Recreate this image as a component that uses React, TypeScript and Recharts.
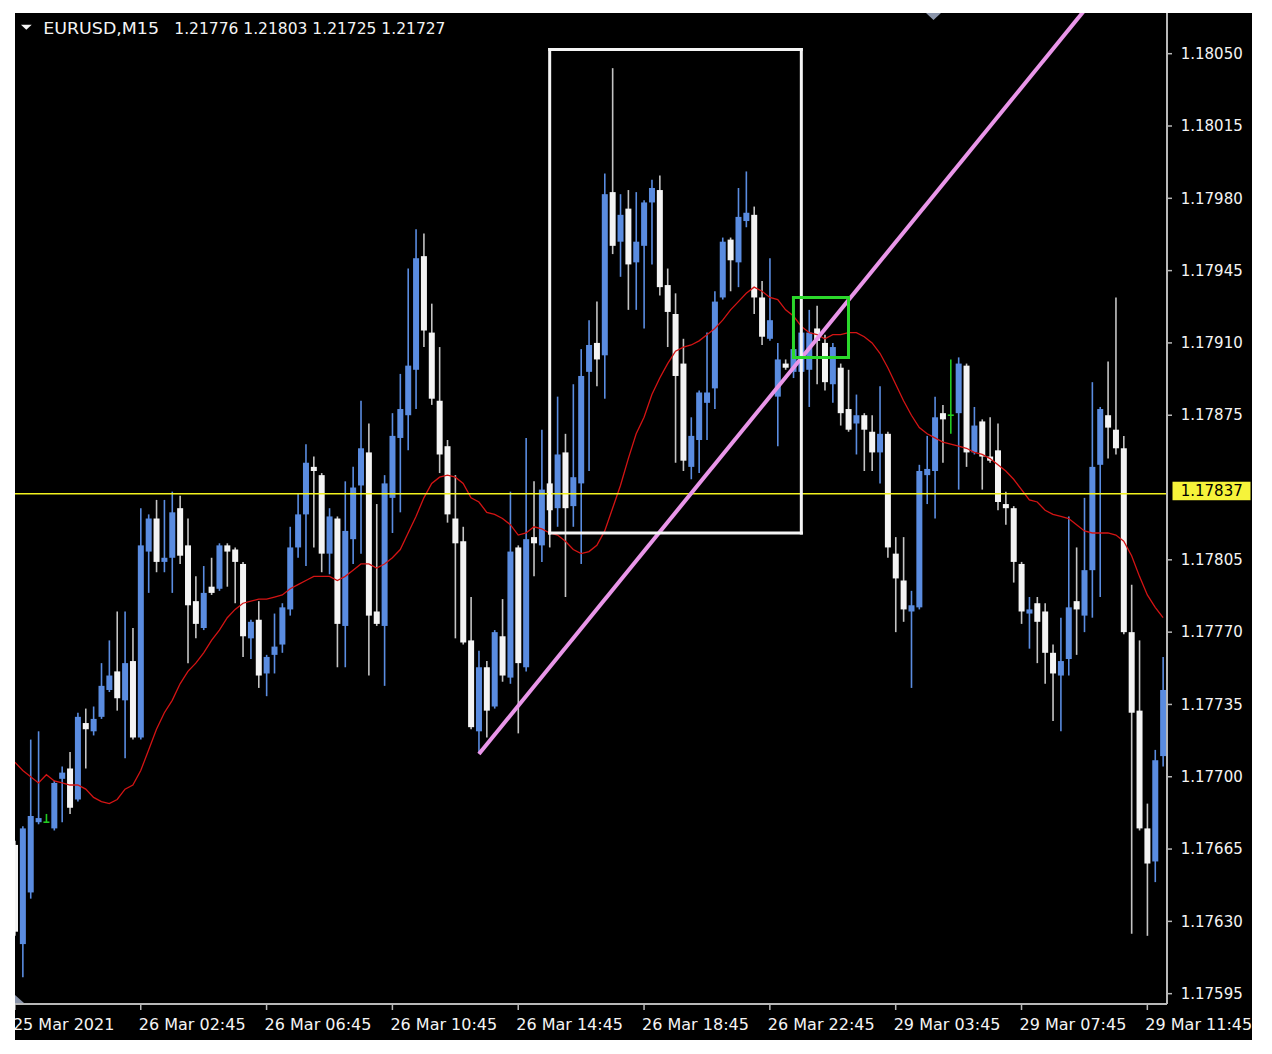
import { Bar, ComposedChart, Line, ReferenceLine, XAxis, YAxis } from "recharts";

// EURUSD M15 candles, bar 0 = 25 Mar 22:45
const open = [
  1.17667, 1.17619, 1.17644, 1.17678, 1.17678, 1.17675, 1.17699, 1.17704, 1.17689, 1.17726,
  1.17722, 1.17729, 1.17742, 1.17751, 1.17737, 1.17756, 1.17719, 1.17809, 1.17825, 1.17804,
  1.17806, 1.1783, 1.17812, 1.17785, 1.17772, 1.17792, 1.17791, 1.17812, 1.1781, 1.17803,
  1.17767, 1.17776, 1.1775, 1.17759, 1.17764, 1.17781, 1.17811, 1.17827, 1.1785, 1.17846,
  1.17808, 1.17825, 1.17773, 1.17815, 1.17841, 1.17857, 1.1778, 1.17773, 1.17835, 1.17864,
  1.17875, 1.17897, 1.17952, 1.17915, 1.17882, 1.1786, 1.17825, 1.17814, 1.17766, 1.17722,
  1.17753, 1.17734, 1.17768, 1.17748, 1.17811, 1.17753, 1.17816, 1.17812, 1.17842, 1.1783,
  1.17857, 1.17831, 1.17842, 1.17896, 1.1791, 1.17904, 1.17983, 1.17959, 1.17975, 1.17949,
  1.17957, 1.17978, 1.17984, 1.17938, 1.17924, 1.179, 1.1785, 1.17863, 1.17881, 1.17888,
  1.17932, 1.1796, 1.17949, 1.17969, 1.17972, 1.17932, 1.17912, 1.17884, 1.179, 1.17896,
  1.17896, 1.17897, 1.17917, 1.1791, 1.1789, 1.17898, 1.17878, 1.17871, 1.17875, 1.17867,
  1.17857, 1.17866, 1.17808, 1.17795, 1.1778, 1.17782, 1.17846, 1.17848, 1.17876, 1.17875,
  1.17876, 1.17899, 1.17857, 1.17872, 1.17855, 1.17858, 1.17832, 1.1783, 1.17803, 1.17779,
  1.17784, 1.1778, 1.1776, 1.17749, 1.17757, 1.17785, 1.17778, 1.178, 1.17851, 1.17875,
  1.17868, 1.17859, 1.1777, 1.17732, 1.17675, 1.17659, 1.1771,
];
const high = [
  1.17669, 1.17676, 1.17718, 1.17722, 1.17682, 1.17698, 1.17705, 1.17712, 1.17731, 1.17733,
  1.17734, 1.17755, 1.17766, 1.1778, 1.1778, 1.17772, 1.1783, 1.17827, 1.17834, 1.17834,
  1.17838, 1.17836, 1.17825, 1.17797, 1.17802, 1.17806, 1.17813, 1.17813, 1.17811, 1.17804,
  1.17776, 1.17785, 1.17759, 1.17779, 1.17784, 1.17821, 1.17837, 1.17861, 1.17855, 1.17847,
  1.1783, 1.17826, 1.17843, 1.1785, 1.17882, 1.17871, 1.17832, 1.17846, 1.17876, 1.17895,
  1.17946, 1.17965, 1.17963, 1.17929, 1.17908, 1.17863, 1.17846, 1.17821, 1.17787, 1.17761,
  1.17756, 1.17771, 1.17786, 1.17838, 1.17812, 1.17864, 1.17843, 1.17868, 1.17843, 1.17884,
  1.17866, 1.1789, 1.17907, 1.17921, 1.1793, 1.17992, 1.18043, 1.17982, 1.17984, 1.17983,
  1.17979, 1.17989, 1.17991, 1.17946, 1.17934, 1.17912, 1.17874, 1.17887, 1.17915, 1.17935,
  1.17961, 1.17961, 1.17985, 1.17993, 1.17976, 1.1794, 1.17951, 1.1791, 1.17902, 1.17914,
  1.17922, 1.17926, 1.17928, 1.17914, 1.1791, 1.179, 1.17897, 1.17885, 1.17876, 1.17875,
  1.17889, 1.17867, 1.17816, 1.17816, 1.1779, 1.17851, 1.17865, 1.17884, 1.1788, 1.17902,
  1.17903, 1.179, 1.17879, 1.17873, 1.17874, 1.17871, 1.17838, 1.17831, 1.17804, 1.17787,
  1.17787, 1.17784, 1.17764, 1.17777, 1.17826, 1.17811, 1.17835, 1.17891, 1.17879, 1.17901,
  1.17932, 1.17865, 1.17793, 1.17766, 1.17687, 1.17713, 1.17758,
];
const low = [
  1.17623, 1.17603, 1.17641, 1.17677, 1.17678, 1.17674, 1.17678, 1.17682, 1.17688, 1.17704,
  1.1772, 1.17728, 1.17741, 1.17732, 1.17709, 1.17718, 1.17718, 1.17789, 1.17799, 1.17799,
  1.17789, 1.17803, 1.17755, 1.17767, 1.17771, 1.17788, 1.1779, 1.17792, 1.17784, 1.17758,
  1.17757, 1.17743, 1.17739, 1.1775, 1.1776, 1.17778, 1.17806, 1.17802, 1.17811, 1.17799,
  1.17798, 1.17753, 1.17753, 1.17803, 1.17808, 1.17749, 1.17773, 1.17744, 1.17818, 1.17828,
  1.17858, 1.17878, 1.17908, 1.1788, 1.17847, 1.17823, 1.17767, 1.17764, 1.17723, 1.17712,
  1.17719, 1.17733, 1.17746, 1.17745, 1.17721, 1.17751, 1.17797, 1.17804, 1.17811, 1.17821,
  1.17787, 1.17821, 1.17803, 1.17848, 1.17889, 1.17883, 1.17953, 1.17942, 1.17926, 1.17926,
  1.17917, 1.17948, 1.17933, 1.17908, 1.17852, 1.17848, 1.17844, 1.17847, 1.17863, 1.17878,
  1.17931, 1.17935, 1.17937, 1.17966, 1.17924, 1.17909, 1.17911, 1.1786, 1.17897, 1.17893,
  1.17892, 1.17879, 1.1789, 1.17887, 1.17881, 1.1787, 1.17867, 1.17856, 1.17848, 1.17848,
  1.17842, 1.17806, 1.1777, 1.17775, 1.17743, 1.17781, 1.17832, 1.17825, 1.17852, 1.17866,
  1.17839, 1.1785, 1.17856, 1.17839, 1.17852, 1.17829, 1.17822, 1.17794, 1.17774, 1.17762,
  1.17755, 1.17745, 1.17727, 1.17722, 1.17749, 1.17759, 1.1777, 1.17777, 1.17787, 1.17854,
  1.17856, 1.17769, 1.17624, 1.17674, 1.17623, 1.17649, 1.17705,
];
const close = [
  1.17625, 1.17675, 1.17681, 1.1768, 1.17678, 1.17697, 1.17702, 1.17685, 1.17729, 1.17723,
  1.17728, 1.17744, 1.17749, 1.17738, 1.17755, 1.17719, 1.17812, 1.17825, 1.17804, 1.17806,
  1.17828, 1.17807, 1.17783, 1.17774, 1.17789, 1.17789, 1.17812, 1.17809, 1.17804, 1.17768,
  1.17775, 1.17749, 1.17758, 1.17763, 1.17782, 1.17811, 1.17827, 1.17852, 1.17848, 1.17808,
  1.17826, 1.17774, 1.17819, 1.1784, 1.17859, 1.17778, 1.17774, 1.17842, 1.17865, 1.17878,
  1.17899, 1.17951, 1.17916, 1.17883, 1.17856, 1.17827, 1.17813, 1.17765, 1.17724, 1.17753,
  1.17732, 1.1777, 1.17749, 1.17809, 1.17755, 1.17815, 1.17813, 1.17839, 1.17829, 1.17856,
  1.1783, 1.17845, 1.17894, 1.17909, 1.17902, 1.17982, 1.17957, 1.17972, 1.17948, 1.17959,
  1.17978, 1.17985, 1.17937, 1.17925, 1.17894, 1.17853, 1.17865, 1.17886, 1.17886, 1.1793,
  1.17959, 1.1795, 1.17971, 1.17973, 1.17932, 1.17913, 1.17921, 1.17902, 1.17898, 1.17907,
  1.17915, 1.17915, 1.17911, 1.17891, 1.17908, 1.17876, 1.17868, 1.17875, 1.17868, 1.17857,
  1.17866, 1.17811, 1.17796, 1.17781, 1.17783, 1.17848, 1.17849, 1.17874, 1.17873, 1.17875,
  1.179, 1.17857, 1.1787, 1.17855, 1.17853, 1.17833, 1.1783, 1.17804, 1.1778, 1.17781,
  1.17775, 1.1776, 1.1775, 1.17756, 1.17782, 1.17781, 1.178, 1.1785, 1.17878, 1.17869,
  1.17859, 1.1777, 1.17731, 1.17675, 1.17658, 1.17708, 1.17742,
];
// red moving average
const ma = [
  1.17707, 1.17703, 1.177, 1.17697, 1.17701, 1.17698, 1.17697, 1.17696, 1.17696, 1.17694,
  1.1769, 1.17688, 1.17687, 1.17689, 1.17694, 1.17696, 1.17703, 1.17713, 1.17723, 1.17731,
  1.17737, 1.17745, 1.17751, 1.17755, 1.1776, 1.17766, 1.17771, 1.17777, 1.17781, 1.17784,
  1.17785, 1.17786, 1.17786, 1.17787, 1.17788, 1.17791, 1.17793, 1.17795, 1.17797, 1.17797,
  1.17797, 1.17795, 1.17797, 1.178, 1.17803, 1.17803, 1.17801, 1.17803, 1.17806, 1.1781,
  1.17818, 1.17826, 1.17835, 1.17842, 1.17845, 1.17846, 1.17845, 1.17842, 1.17835, 1.17833,
  1.17828, 1.17827, 1.17825, 1.17822, 1.17817, 1.17818, 1.17821, 1.1782, 1.17818, 1.17817,
  1.17814, 1.1781, 1.17808, 1.17809, 1.17812, 1.17819, 1.1783, 1.17841, 1.17854, 1.17866,
  1.17874, 1.17885, 1.17893, 1.179, 1.17906, 1.17908, 1.17909, 1.17911, 1.17914, 1.17917,
  1.17921, 1.17926, 1.1793, 1.17934, 1.17937, 1.17935, 1.17932, 1.17931, 1.17926, 1.17923,
  1.17918, 1.17915, 1.17914, 1.17912, 1.17914, 1.17914, 1.17915, 1.17915, 1.17913, 1.1791,
  1.17905, 1.17898, 1.1789, 1.17882, 1.17875, 1.17869, 1.17866, 1.17864, 1.17862, 1.17861,
  1.1786, 1.17859, 1.17857, 1.17856, 1.17854, 1.17851, 1.17848, 1.17844, 1.17839, 1.17834,
  1.17833, 1.17829, 1.17827, 1.17826, 1.17825, 1.17822, 1.17819, 1.17818, 1.17818, 1.17818,
  1.17817, 1.17814, 1.17807, 1.17797, 1.17788, 1.17782, 1.17777,
];

const timeTickBars = [0, 16, 32, 48, 64, 80, 96, 112, 128, 144];
const timeTickLabels = [
  "25 Mar 2021", "26 Mar 02:45", "26 Mar 06:45", "26 Mar 10:45", "26 Mar 14:45",
  "26 Mar 18:45", "26 Mar 22:45", "29 Mar 03:45", "29 Mar 07:45", "29 Mar 11:45",
];
const priceTicks = [
  1.1805, 1.18015, 1.1798, 1.17945, 1.1791, 1.17875, 1.17837, 1.17805,
  1.1777, 1.17735, 1.177, 1.17665, 1.1763, 1.17595,
];
const CURRENT_PRICE = 1.17837;
const Y_MIN = 1.1759;
const Y_MAX = 1.180697;

const BLUE = "#5a8ce0";
const WHITE = "#f4f4f4";
const WICK = "#c4c4c4";
const DOJI = "#22cc22";
const AXIS = "#b8b8b8";
const FONT = "DejaVu Sans";

const rows = open.map((o, i) => ({
  i,
  o,
  h: high[i],
  l: low[i],
  c: close[i],
  ma: ma[i],
  range: [low[i], high[i]],
}));

function Candle(props: any) {
  const { x, y, width, height, payload } = props;
  if (!payload) return null;
  const { o, h, l, c } = payload;
  const top = Math.min(y, y + height);
  const span = Math.abs(height);
  const k = span / (h - l);
  const cx = x + width / 2;
  const yO = top + (h - o) * k;
  const yC = top + (h - c) * k;
  const doji = o === c;
  const up = c > o;
  const wick = doji ? DOJI : up ? BLUE : WICK;
  return (
    <g>
      <line x1={cx} x2={cx} y1={top} y2={top + span} stroke={wick} strokeWidth={1.6} />
      {doji ? (
        <line x1={cx - 3} x2={cx + 3} y1={yO} y2={yO} stroke={DOJI} strokeWidth={1.6} />
      ) : (
        <rect
          x={cx - 3}
          y={Math.min(yO, yC)}
          width={6}
          height={Math.max(1.5, Math.abs(yC - yO))}
          fill={up ? BLUE : WHITE}
        />
      )}
    </g>
  );
}

function renderXTick(props: any) {
  const { x, y, payload } = props;
  const idx = timeTickBars.indexOf(payload.value);
  if (idx < 0) return <g />;
  return (
    <g>
      <line x1={x} x2={x} y1={y} y2={y + 6} stroke={AXIS} strokeWidth={1.5} />
      <text x={x - 2} y={y + 26} fill={WHITE} fontSize={16} fontFamily={FONT}>
        {timeTickLabels[idx]}
      </text>
    </g>
  );
}

function renderYTick(props: any) {
  const { x, y, payload } = props;
  const v = payload.value as number;
  if (Math.abs(v - CURRENT_PRICE) < 1e-7) {
    return (
      <g>
        <rect x={x + 5.5} y={y - 12} width={78} height={18.5} fill="#f6f33a" />
        <text x={x + 13.7} y={y - 2.8} dy="0.35em" fill="#000" fontSize={15} fontFamily={FONT}>
          {v.toFixed(5)}
        </text>
      </g>
    );
  }
  return (
    <g>
      <line x1={x} x2={x + 5} y1={y} y2={y} stroke={AXIS} strokeWidth={1.5} />
      <text x={x + 13.7} y={y} dy="0.35em" fill={WHITE} fontSize={15} fontFamily={FONT}>
        {v.toFixed(5)}
      </text>
    </g>
  );
}

// four edges of a drawn rectangle object, x in bar indices
function boxLines(id: string, x1: number, x2: number, y1: number, y2: number, color: string) {
  const edges = [
    [{ x: x1, y: y1 }, { x: x2, y: y1 }],
    [{ x: x2, y: y1 }, { x: x2, y: y2 }],
    [{ x: x2, y: y2 }, { x: x1, y: y2 }],
    [{ x: x1, y: y2 }, { x: x1, y: y1 }],
  ];
  return edges.map((seg, k) => (
    <ReferenceLine
      key={`${id}-${k}`}
      segment={seg}
      stroke={color}
      strokeWidth={3}
      strokeLinecap="square"
      ifOverflow="visible"
    />
  ));
}

export default function App() {
  return (
    <div style={{ paddingLeft: 7, paddingTop: 5 }}>
      <div
        style={{
          position: "relative",
          width: 1237,
          height: 1027,
          background: "#000",
          overflow: "hidden",
        }}
      >
        <ComposedChart
          width={1241}
          height={1027}
          data={rows}
          margin={{ top: 0, right: 0, left: 0, bottom: 0 }}
          style={{ position: "absolute", left: -4, top: 0 }}
        >
          <XAxis
            dataKey="i"
            ticks={timeTickBars}
            interval={0}
            tick={renderXTick}
            tickLine={false}
            tickSize={0}
            tickMargin={0}
            axisLine={{ stroke: AXIS, strokeWidth: 2 }}
            height={36}
          />
          <YAxis
            orientation="right"
            type="number"
            domain={[Y_MIN, Y_MAX]}
            allowDataOverflow
            ticks={priceTicks}
            interval={0}
            width={85}
            tick={renderYTick}
            tickLine={false}
            tickSize={0}
            tickMargin={0}
            axisLine={{ stroke: AXIS, strokeWidth: 2 }}
          />
          <Bar
            dataKey="range"
            barSize={6}
            shape={(p: any) => <Candle {...p} />}
            isAnimationActive={false}
          />
          <Line
            dataKey="ma"
            type="linear"
            stroke="#d41414"
            strokeWidth={1.3}
            dot={false}
            activeDot={false}
            isAnimationActive={false}
          />
          <ReferenceLine y={CURRENT_PRICE} stroke="#f2f21e" strokeWidth={1.5} />
          <ReferenceLine
            segment={[
              { x: 59, y: 1.17711 },
              { x: 136, y: 1.18071 },
            ]}
            stroke="#e996e9"
            strokeWidth={4}
            ifOverflow="hidden"
          />
          {boxLines("range", 68, 100, 1.18052, 1.17818, "#f4f4f4")}
          {boxLines("cross", 99, 106, 1.17932, 1.17903, "#2bd82b")}
        </ComposedChart>
        <svg
          width={1237}
          height={1027}
          style={{ position: "absolute", left: 0, top: 0, pointerEvents: "none" }}
        >
          <polygon points="6,11.7 16.7,11.7 11.3,16.7" fill={WHITE} />
          <text x={28.3} y={20.7} fill={WHITE} fontSize={16} fontFamily={FONT} textLength={115.7} lengthAdjust="spacingAndGlyphs">
            EURUSD,M15
          </text>
          <text x={159.3} y={20.7} fill={WHITE} fontSize={15.5} fontFamily={FONT} style={{ whiteSpace: "pre" }}>
            1.21776 1.21803 1.21725 1.21727
          </text>
          <polygon points="911,0 926,0 918.5,7" fill="#8b95aa" />
          <polygon points="0,982 9,990 0,990" fill="#8b95aa" />
        </svg>
      </div>
    </div>
  );
}
